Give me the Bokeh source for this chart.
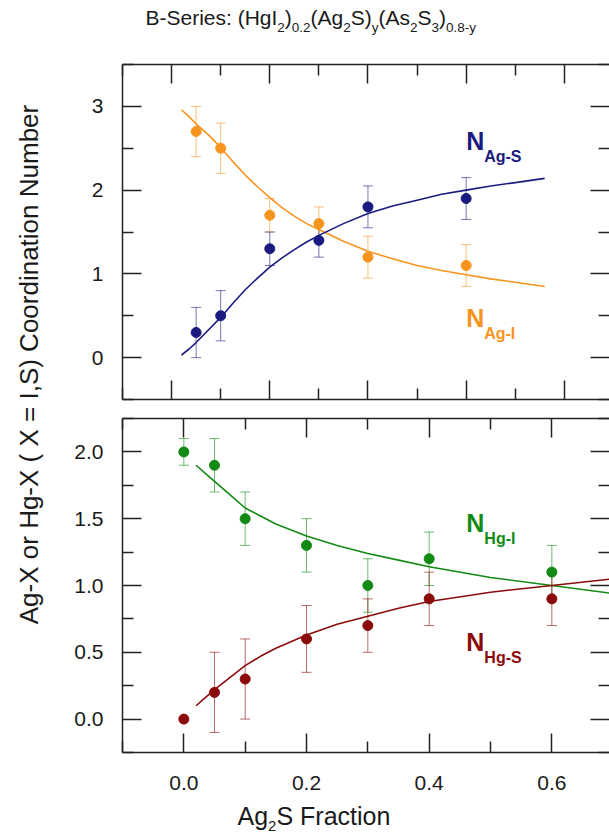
import math
from bokeh.plotting import figure
from bokeh.models import (Range1d, LinearAxis, FixedTicker, NumeralTickFormatter,
                          Label, Whisker, TeeHead, ColumnDataSource)
from bokeh.layouts import row, column
from bokeh.embed import file_html
from bokeh.resources import INLINE

# ---------------- data ----------------
# top panel: Ag coordination numbers
x_top = [0.05, 0.10, 0.20, 0.30, 0.40, 0.60]
n_ag_i = [2.7, 2.5, 1.7, 1.6, 1.2, 1.1]
n_ag_i_err = [0.3, 0.3, 0.2, 0.2, 0.25, 0.25]
n_ag_s = [0.3, 0.5, 1.3, 1.4, 1.8, 1.9]
n_ag_s_err = [0.3, 0.3, 0.2, 0.2, 0.25, 0.25]

fit_x_top = [0.02, 0.035, 0.05, 0.075, 0.10, 0.125, 0.15, 0.175, 0.20, 0.225, 0.25, 0.275,
             0.30, 0.35, 0.40, 0.45, 0.50, 0.55, 0.60, 0.65, 0.70, 0.76]
fit_ag_i = [2.96, 2.88, 2.79, 2.66, 2.51, 2.34, 2.18, 2.04, 1.91, 1.79, 1.69, 1.60,
            1.53, 1.39, 1.27, 1.18, 1.10, 1.04, 0.99, 0.94, 0.90, 0.85]
fit_ag_s = [0.03, 0.10, 0.18, 0.33, 0.48, 0.65, 0.81, 0.95, 1.08, 1.19, 1.29, 1.38,
            1.46, 1.60, 1.72, 1.81, 1.88, 1.95, 2.00, 2.05, 2.09, 2.14]

# bottom panel: Hg coordination numbers
x_bot = [0.0, 0.05, 0.10, 0.20, 0.30, 0.40, 0.60]
n_hg_i = [2.0, 1.9, 1.5, 1.3, 1.0, 1.2, 1.1]
n_hg_i_err = [0.1, 0.2, 0.2, 0.2, 0.2, 0.2, 0.2]
n_hg_s = [0.0, 0.2, 0.3, 0.6, 0.7, 0.9, 0.9]
n_hg_s_err = [0.0, 0.3, 0.3, 0.25, 0.2, 0.2, 0.2]

fit_x_bot = [0.02, 0.035, 0.05, 0.075, 0.10, 0.125, 0.15, 0.20, 0.25, 0.30, 0.35, 0.40,
             0.50, 0.60, 0.70]
fit_hg_i = [1.90, 1.84, 1.78, 1.68, 1.58, 1.52, 1.46, 1.37, 1.30, 1.24, 1.19, 1.14,
            1.06, 1.00, 0.94]
fit_hg_s = [0.10, 0.16, 0.22, 0.31, 0.40, 0.47, 0.53, 0.63, 0.71, 0.77, 0.83, 0.88,
            0.95, 1.00, 1.05]

top_x_major = [0.0, 0.2, 0.4, 0.6, 0.8]
top_x_minor = [-0.1, 0.1, 0.3, 0.5, 0.7]
top_y_major = [0, 1, 2, 3]
top_y_minor = [-0.5, 0.5, 1.5, 2.5, 3.5]
bot_x_major = [0.0, 0.2, 0.4, 0.6]
bot_x_minor = [-0.1, 0.1, 0.3, 0.5]
bot_y_major = [0.0, 0.5, 1.0, 1.5, 2.0]
bot_y_minor = [-0.25, 0.25, 0.75, 1.25, 1.75, 2.25]

ORANGE = "#F7941D"
NAVY = "#1A1A80"
GREEN = "#138A13"
DARKRED = "#8B0A0A"
INK = "#222222"
TXT = "#1a1a1a"
FONT = "Liberation Sans"

# ---------------- text helpers ----------------
W_REG = {' ': 278, '(': 333, ')': 333, ',': 278, '-': 333, '.': 278, ':': 278, '=': 584,
         'A': 667, 'B': 667, 'C': 722, 'F': 611, 'H': 722, 'I': 278, 'N': 722, 'S': 667, 'X': 667,
         'a': 556, 'b': 556, 'c': 500, 'd': 556, 'e': 556, 'g': 556, 'i': 222, 'm': 833,
         'n': 556, 'o': 556, 'r': 333, 's': 500, 't': 278, 'u': 556, 'y': 500}
W_BOLD = {'N': 722, 'A': 722, 'g': 611, '-': 333, 'S': 667, 'I': 278, 'H': 722}
BASE_FIX = 0.37  # shift so that the given y is the visual baseline


def text_width(s, size, bold=False):
    table = W_BOLD if bold else W_REG
    return sum(table.get(c, 556) for c in s) * size / 1000.0


def rich_label(fig, x, y, segs, size, sub_size, sub_dy, color, bold=False):
    off = 0.0
    for txt, sub in segs:
        fs = sub_size if sub else size
        dy = BASE_FIX * fs - (sub_dy if sub else 0)
        fig.add_layout(Label(x=x, y=y, x_offset=off, y_offset=dy,
                             text=txt, text_font=FONT, text_font_size=f"{fs}px",
                             text_font_style="bold" if bold else "normal",
                             text_color=color, text_align="left",
                             text_baseline="alphabetic"))
        off += text_width(txt, fs, bold)


def style_axis(ax, show_labels, line=True, standoff=19):
    ax.axis_line_color = INK if line else None
    ax.axis_line_width = 1.5
    ax.major_tick_line_color = INK
    ax.major_tick_line_width = 1.5
    ax.minor_tick_line_color = INK
    ax.minor_tick_line_width = 1.5
    ax.major_tick_in = 19
    ax.major_tick_out = 0
    ax.minor_tick_in = 11
    ax.minor_tick_out = 0
    if show_labels:
        ax.major_label_text_font = FONT
        ax.major_label_text_font_size = "21px"
        ax.major_label_text_color = TXT
        ax.major_label_standoff = standoff
    else:
        ax.major_label_text_font_size = "1px"
        ax.major_label_text_color = None
        ax.major_label_standoff = 0


def add_axes(p, xmaj, xmin, ymaj, ymin, xlabels, yfmt):
    b = LinearAxis(ticker=FixedTicker(ticks=xmaj, minor_ticks=xmin))
    style_axis(b, xlabels, standoff=23)
    if xlabels:
        b.formatter = NumeralTickFormatter(format="0.0")
    p.add_layout(b, "below")
    t = LinearAxis(ticker=FixedTicker(ticks=xmaj, minor_ticks=xmin))
    style_axis(t, False)
    p.add_layout(t, "above")
    l = LinearAxis(ticker=FixedTicker(ticks=ymaj, minor_ticks=ymin))
    style_axis(l, True)
    l.formatter = NumeralTickFormatter(format=yfmt)
    p.add_layout(l, "left")
    r = LinearAxis(ticker=FixedTicker(ticks=ymaj, minor_ticks=ymin))
    style_axis(r, False, line=False)
    p.add_layout(r, "right")


def add_series(p, xs, ys, errs, fx, fy, color):
    p.line(fx, fy, line_color=color, line_width=1.6)
    keep = [i for i, e in enumerate(errs) if e > 0]
    src = ColumnDataSource(dict(
        x=[xs[i] for i in keep],
        lower=[ys[i] - errs[i] for i in keep],
        upper=[ys[i] + errs[i] for i in keep]))
    p.add_layout(Whisker(source=src, base="x", lower="lower", upper="upper",
                         line_color=color, line_alpha=0.6, line_width=1,
                         upper_head=TeeHead(size=10, line_color=color, line_alpha=0.6, line_width=1),
                         lower_head=TeeHead(size=10, line_color=color, line_alpha=0.6, line_width=1)))
    p.scatter(xs, ys, marker="circle", size=10, fill_color=color, line_color=color)


def text_panel(w, h, x0=0, x1=None, left=0):
    # frame coordinates equal page pixels (x) and pixels from the panel bottom (y)
    f = figure(width=w, height=h, x_range=Range1d(x0, x1 if x1 is not None else w),
               y_range=Range1d(0, h),
               x_axis_location=None, y_axis_location=None, title=None,
               toolbar_location=None, output_backend="svg", min_border=0,
               min_border_left=left, min_border_right=0,
               outline_line_color=None)
    f.grid.visible = False
    return f


H_TOTAL = 834

# ---------------- y-axis label column ----------------
lab = text_panel(48, H_TOTAL)
lab.add_layout(Label(x=28, y=H_TOTAL - 364, text="Ag-X or Hg-X ( X = I,S) Coordination Number",
                     angle=math.pi / 2, text_align="center", text_baseline="middle",
                     text_font=FONT, text_font_size="26px", text_color=TXT))

# ---------------- title (frame aligned with the panels: page x 122..609) ----------------
ttl = text_panel(561, 50, 122, 609, left=74)
title_segs = [("B-Series: (HgI", False), ("2", True), (")", False), ("0.2", True),
              ("(Ag", False), ("2", True), ("S)", False), ("y", True),
              ("(As", False), ("2", True), ("S", False), ("3", True), (")", False),
              ("0.8-y", True)]
rich_label(ttl, 145, 25, title_segs, 21, 13.5, 7, TXT)

# ---------------- top panel ----------------
top = figure(width=561, height=359, x_range=Range1d(-0.1, 0.892), y_range=Range1d(-0.5, 3.5),
             x_axis_location=None, y_axis_location=None, title=None,
             toolbar_location=None, output_backend="svg",
             min_border_left=74, min_border_right=0, min_border_top=14, min_border_bottom=10,
             outline_line_color=None)
top.grid.visible = False
add_axes(top, top_x_major, top_x_minor, top_y_major, top_y_minor, False, "0")
add_series(top, x_top, n_ag_i, n_ag_i_err, fit_x_top, fit_ag_i, ORANGE)
add_series(top, x_top, n_ag_s, n_ag_s_err, fit_x_top, fit_ag_s, NAVY)

rich_label(top, 0.600, 2.473, [("N", False), ("Ag-S", True)], 25, 16, 12, NAVY, bold=True)
rich_label(top, 0.600, 0.363, [("N", False), ("Ag-I", True)], 25, 16, 12, ORANGE, bold=True)

# ---------------- bottom panel ----------------
bot = figure(width=561, height=391, x_range=Range1d(-0.1, 0.694), y_range=Range1d(-0.25, 2.25),
             x_axis_location=None, y_axis_location=None, title=None,
             toolbar_location=None, output_backend="svg",
             min_border_left=74, min_border_right=0, min_border_top=9, min_border_bottom=48,
             outline_line_color=None)
bot.grid.visible = False
add_axes(bot, bot_x_major, bot_x_minor, bot_y_major, bot_y_minor, True, "0.0")
add_series(bot, x_bot, n_hg_i, n_hg_i_err, fit_x_bot, fit_hg_i, GREEN)
add_series(bot, x_bot, n_hg_s, n_hg_s_err, fit_x_bot, fit_hg_s, DARKRED)

rich_label(bot, 0.4605, 1.399, [("N", False), ("Hg-I", True)], 25, 16, 12, GREEN, bold=True)
rich_label(bot, 0.4605, 0.508, [("N", False), ("Hg-S", True)], 25, 16, 12, DARKRED, bold=True)

# ---------------- x-axis label (page x 122..609) ----------------
xl = text_panel(561, 34, 122, 609, left=74)
rich_label(xl, 237, 9, [("Ag", False), ("2", True), ("S Fraction", False)], 25, 15, 6, TXT)

layout = row(lab, column(ttl, top, bot, xl))

with open("out.html", "w") as f:
    f.write(file_html(layout, INLINE))
